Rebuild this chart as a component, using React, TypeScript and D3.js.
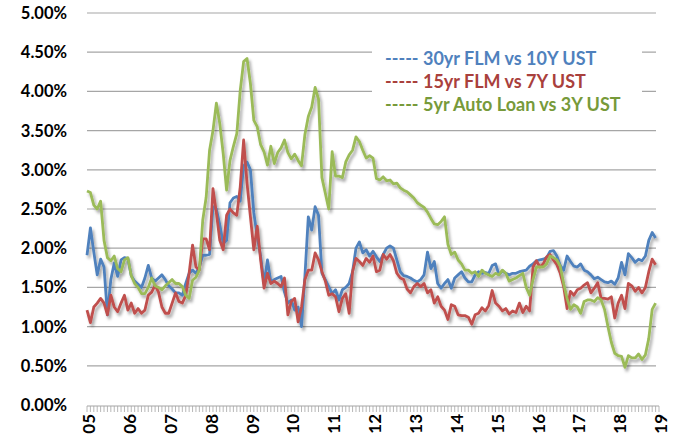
import React from "react";
import * as d3 from "d3";

// monthly spreads, Jan 2005 .. Dec 2018 (percent)
const flm30 = [
  1.91, 2.26, 1.95, 1.66, 1.86, 1.76, 1.15, 1.6, 1.81, 1.64, 1.85, 1.88,
  1.87, 1.65, 1.58, 1.54, 1.5, 1.62, 1.78, 1.62, 1.58, 1.62, 1.66, 1.6,
  1.52, 1.48, 1.43, 1.43, 1.4, 1.55, 1.68, 1.72, 1.68, 1.76, 1.91, 1.91,
  1.92, 2.53, 2.5, 2.3, 2.06, 2.1, 2.58, 2.64, 2.66, 2.6, 3.05, 3.1,
  3.0, 2.45, 2.15, 1.9, 1.55, 1.85, 1.57, 1.6, 1.62, 1.64, 1.44, 1.3,
  1.34, 1.21, 1.25, 1.0, 1.64, 2.4, 2.23, 2.53, 2.42, 1.68, 1.6, 1.51,
  1.42, 1.47, 1.34, 1.47, 1.5, 1.55, 1.7, 2.0, 2.08, 1.94, 1.98, 1.9,
  1.96, 1.89, 1.83, 1.92, 2.0, 2.03, 2.0, 1.85, 1.7, 1.65, 1.64, 1.62,
  1.59, 1.57, 1.6, 1.66, 1.95, 1.74, 1.83, 1.55, 1.49, 1.55, 1.6, 1.49,
  1.62, 1.66, 1.7, 1.62, 1.57, 1.57, 1.66, 1.7, 1.68, 1.69, 1.68, 1.78,
  1.8, 1.66, 1.71, 1.68, 1.66, 1.68, 1.68, 1.7, 1.71, 1.72, 1.77, 1.8,
  1.84, 1.85, 1.86, 1.88, 1.96, 1.97, 1.9, 1.78, 1.72, 1.9, 1.83, 1.77,
  1.76, 1.8, 1.72, 1.7, 1.66, 1.61, 1.63, 1.6, 1.57, 1.56, 1.58, 1.54,
  1.62, 1.82, 1.66, 1.93, 1.88, 1.82, 1.86, 1.84, 1.9, 2.1, 2.2, 2.13,
];

const flm15 = [
  1.21, 1.05, 1.25, 1.3, 1.36, 1.3, 1.15, 1.4, 1.25, 1.19, 1.3, 1.4,
  1.21, 1.3, 1.17, 1.23, 1.17, 1.21, 1.4, 1.44, 1.53, 1.44, 1.25, 1.17,
  1.17, 1.3, 1.43, 1.32, 1.3, 1.4, 1.68, 2.04, 1.76, 1.72, 2.12, 2.12,
  1.98, 2.76, 2.45, 2.1, 1.98, 2.42, 2.5, 2.45, 2.42, 2.78, 3.38, 2.83,
  2.4, 1.98, 2.28, 1.85, 1.49, 1.68, 1.55, 1.58, 1.55, 1.51, 1.62, 1.15,
  1.32, 1.36, 1.06, 1.25, 1.6, 1.72, 1.72, 1.94, 1.85, 1.7, 1.58, 1.4,
  1.42, 1.38, 1.19, 1.36, 1.42, 1.17, 1.7, 1.87, 1.83, 1.78, 1.87, 1.82,
  1.9, 1.7, 1.72, 1.92, 1.86, 1.92, 1.84, 1.68, 1.62, 1.6, 1.48, 1.43,
  1.51, 1.55, 1.51, 1.55, 1.43, 1.47, 1.3, 1.38, 1.26, 1.21, 1.09, 1.28,
  1.26, 1.15, 1.14, 1.14, 1.12, 1.03, 1.15, 1.17, 1.24, 1.2, 1.27, 1.46,
  1.3, 1.26, 1.2, 1.23, 1.16, 1.2, 1.18, 1.3, 1.18, 1.26, 1.2, 1.76,
  1.84, 1.76, 1.8, 1.89, 1.92, 1.85, 1.79, 1.68, 1.51, 1.23, 1.45, 1.4,
  1.47, 1.49, 1.53, 1.56, 1.43, 1.49, 1.56, 1.36, 1.36, 1.35, 1.38, 1.11,
  1.3, 1.4, 1.23, 1.55, 1.52, 1.45, 1.5, 1.43, 1.5, 1.7, 1.86, 1.79,
];

const auto5 = [
  2.73, 2.71, 2.55, 2.5, 2.6, 2.1, 1.88, 1.84, 1.9, 1.74, 1.7, 1.85,
  1.88, 1.65, 1.55, 1.5, 1.42, 1.42, 1.5, 1.62, 1.52, 1.5, 1.47, 1.52,
  1.56, 1.6, 1.55, 1.55, 1.51, 1.4, 1.36, 1.59, 1.63, 1.72, 2.36, 2.65,
  3.25, 3.5, 3.85, 3.59, 3.21, 2.74, 3.12, 3.3, 3.46, 4.01, 4.38, 4.42,
  4.1, 3.63, 3.55, 3.32, 3.23, 3.06, 3.3, 3.08, 3.22, 3.28, 3.38, 3.22,
  3.14, 3.2, 3.12, 3.05, 3.45, 3.68, 3.8, 4.05, 3.9, 2.9, 2.7, 2.5,
  3.23, 2.92, 2.92, 2.9, 3.1, 3.19, 3.25, 3.42, 3.36, 3.25, 3.15, 3.18,
  3.15, 2.89, 2.87, 2.91, 2.86, 2.87, 2.82, 2.83, 2.77, 2.74, 2.72, 2.68,
  2.64, 2.58, 2.55, 2.52, 2.46, 2.38, 2.31, 2.3, 2.34, 2.4, 2.05, 1.92,
  1.95, 1.85, 1.8, 1.72, 1.72, 1.68, 1.7, 1.64, 1.72, 1.68, 1.66, 1.64,
  1.68, 1.66, 1.72, 1.68, 1.58, 1.6, 1.62, 1.65, 1.68, 1.5, 1.4, 1.6,
  1.76, 1.76, 1.76, 1.8, 1.9, 1.88, 1.85, 1.77, 1.55, 1.36, 1.22, 1.28,
  1.25, 1.17, 1.32, 1.34, 1.34, 1.32, 1.37, 1.34, 1.22, 1.0, 0.8, 0.66,
  0.63, 0.62, 0.48, 0.63, 0.6, 0.6, 0.65, 0.58, 0.64, 0.85, 1.22, 1.3,
];

const yearLabels = ["05", "06", "07", "08", "09", "10", "11", "12", "13", "14", "15", "16", "17", "18", "19"];
const yTicks = [0, 0.5, 1, 1.5, 2, 2.5, 3, 3.5, 4, 4.5, 5];

const series = [
  { name: "30yr FLM vs 10Y UST", values: flm30, color: "#4F81BD", text: "#4F81BD" },
  { name: "15yr FLM vs 7Y UST", values: flm15, color: "#C0504D", text: "#A9403C" },
  { name: "5yr Auto Loan vs 3Y UST", values: auto5, color: "#9BBB59", text: "#779A3A" },
];

const width = 675;
const height = 442;
const font = "Lato, 'Open Sans', sans-serif";

export default function App() {
  const x = d3.scaleLinear().domain([0, 168]).range([87, 659]);
  const y = d3.scaleLinear().domain([0, 5]).range([405, 13]);

  const line = d3
    .line<number>()
    .x((_, i) => x(i))
    .y((d) => y(d));

  const months = d3.range(0, 169);

  return (
    <svg
      width={width}
      height={height}
      style={{ position: "absolute", left: 0, top: 0, background: "#fff" }}
    >
      <defs>
        <filter id="shadow" x="-5%" y="-5%" width="110%" height="120%">
          <feDropShadow dx="2" dy="3" stdDeviation="1.6" floodColor="#000" floodOpacity="0.35" />
        </filter>
      </defs>

      {/* gridlines */}
      {yTicks.slice(1).map((t) => (
        <line key={t} x1={87} x2={656} y1={y(t)} y2={y(t)} stroke="#A6A6A6" strokeWidth={1.2} />
      ))}

      {/* y labels */}
      {yTicks.map((t) => (
        <text
          key={t}
          x={67}
          y={y(t)}
          dy="0.36em"
          textAnchor="end"
          fontFamily={font}
          fontWeight="bold"
          fontSize={16.5}
          fill="#000"
        >
          {t.toFixed(2)}%
        </text>
      ))}

      {/* x axis */}
      <line x1={87} x2={659} y1={406} y2={406} stroke="#A6A6A6" strokeWidth={1.2} />
      {months.map((m) => (
        <line key={m} x1={x(m)} x2={x(m)} y1={406} y2={412} stroke="#A6A6A6" strokeWidth={0.8} />
      ))}
      {yearLabels.map((lab, i) => (
        <text
          key={lab}
          transform={`translate(${x(i * 12) + 2},414) rotate(-90)`}
          dy="0.36em"
          textAnchor="end"
          fontFamily={font}
          fontWeight="bold"
          fontSize={17}
          fill="#000"
        >
          {lab}
        </text>
      ))}

      {/* legend box */}
      <rect x={372} y={40} width={270} height={80} fill="#fff" />
      {series.map((s, i) => (
        <text
          key={s.name}
          x={385}
          y={64.5 + i * 23}
          fontFamily={font}
          fontWeight="bold"
          fontSize={18}
          fill={s.text}
        >
          {"----- " + s.name}
        </text>
      ))}

      {/* lines */}
      <g filter="url(#shadow)">
        {series.map((s) => (
          <path key={s.name} d={line(s.values) || ""} fill="none" stroke={s.color} strokeWidth={2.8} strokeLinejoin="round" />
        ))}
      </g>
    </svg>
  );
}
